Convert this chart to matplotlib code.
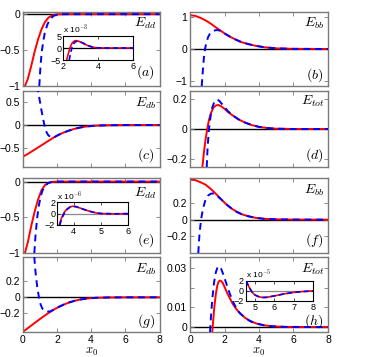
import matplotlib
matplotlib.use("Agg")
import matplotlib.pyplot as plt

plt.rcParams["font.family"] = ["Liberation Sans", "DejaVu Sans"]
plt.rcParams["mathtext.fontset"] = "cm"

# -------------------------------------------------
# DATA
# -------------------------------------------------
# (a) E_dd
a_xr = [0.13, 0.3, 0.5, 0.7, 0.9, 1.1, 1.3, 1.5, 1.7, 1.9, 2.1, 2.4, 3, 8]
a_yr = [-1, -0.9, -0.72, -0.52, -0.35, -0.21, -0.11, -0.05, -0.02, -0.006, -0.002, 0, 0, 0]
a_xb = [0.97, 1.02, 1.1, 1.2, 1.3, 1.45, 1.6, 1.8, 2.0, 2.2, 2.5, 8]
a_yb = [-1, -0.8, -0.55, -0.38, -0.25, -0.14, -0.07, -0.025, -0.008, -0.002, 0, 0]
# inset (a), y in units of 1e-3
ai_xr = [2.19, 2.3, 2.4, 2.5, 2.6, 2.7, 2.85, 3.0, 3.2, 3.4, 3.6, 3.8, 4.0, 4.5, 6]
ai_yr = [-5, -2, 0.5, 2.0, 2.8, 3.1, 2.9, 2.4, 1.7, 1.0, 0.5, 0.2, 0.05, 0, 0]
ai_xb = [2.34, 2.42, 2.5, 2.6, 2.7, 2.8, 3.0, 3.2, 3.4, 3.6, 3.8, 4.0, 4.5, 6]
ai_yb = [-5, -2, 0.3, 1.9, 2.6, 2.8, 2.5, 1.8, 1.1, 0.55, 0.22, 0.06, 0, 0]

# (b) E_bb
b_xr = [0, 0.3, 0.6, 0.9, 1.2, 1.5, 1.8, 2.1, 2.4, 2.7, 3.0, 3.4, 3.8, 4.3, 5, 6, 8]
b_yr = [1.05, 1.03, 0.97, 0.89, 0.79, 0.67, 0.56, 0.45, 0.36, 0.28, 0.21, 0.15, 0.1, 0.055, 0.02, 0.005, 0]
b_xb = [0.68, 0.74, 0.8, 0.87, 0.95, 1.05, 1.15, 1.3, 1.45, 1.6, 1.8, 2.1, 2.4, 2.7, 3.0, 3.4, 3.8, 4.3, 5, 6, 8]
b_yb = [-1.15, -0.7, -0.3, 0, 0.2, 0.37, 0.47, 0.55, 0.58, 0.59, 0.56, 0.45, 0.36, 0.28, 0.21, 0.15, 0.1, 0.055, 0.02, 0.005, 0]

# (c) E_db
c_xr = [0, 0.3, 0.6, 0.9, 1.2, 1.5, 1.8, 2.1, 2.4, 2.7, 3.0, 3.4, 3.8, 4.3, 5, 6, 8]
c_yr = [-0.68, -0.62, -0.55, -0.48, -0.41, -0.34, -0.27, -0.21, -0.16, -0.12, -0.085, -0.05, -0.028, -0.012, -0.004, 0, 0]
c_xb = [0.86, 0.92, 1.0, 1.1, 1.2, 1.3, 1.4, 1.5, 1.6, 1.7, 1.8, 2.1, 2.4, 2.7, 3.0, 3.4, 3.8, 4.3, 5, 6, 8]
c_yb = [0.85, 0.7, 0.52, 0.31, 0.12, -0.05, -0.16, -0.22, -0.25, -0.26, -0.27, -0.21, -0.16, -0.12, -0.085, -0.05, -0.028, -0.012, -0.004, 0, 0]

# (d) E_tot
d_xr = [0.72, 0.8, 0.9, 1.0, 1.1, 1.2, 1.35, 1.5, 1.65, 1.8, 2.0, 2.2, 2.5, 2.8, 3.2, 3.6, 4.0, 4.5, 5, 6, 8]
d_yr = [-0.25, -0.16, -0.07, 0.0, 0.06, 0.1, 0.14, 0.155, 0.158, 0.15, 0.133, 0.112, 0.087, 0.064, 0.042, 0.025, 0.014, 0.006, 0.002, 0, 0]
d_xb = [0.97, 1.02, 1.1, 1.2, 1.3, 1.4, 1.5, 1.6, 1.7, 1.85, 2.0, 2.2, 2.5, 2.8, 3.2, 3.6, 4.0, 4.5, 5, 6, 8]
d_yb = [-0.25, -0.12, 0.0, 0.09, 0.145, 0.175, 0.19, 0.193, 0.185, 0.165, 0.145, 0.117, 0.088, 0.064, 0.042, 0.025, 0.014, 0.006, 0.002, 0, 0]

# (e) E_dd
e_xr = [0.13, 0.3, 0.5, 0.7, 0.9, 1.1, 1.3, 1.5, 1.7, 1.9, 2.2, 8]
e_yr = [-1, -0.85, -0.62, -0.42, -0.25, -0.12, -0.05, -0.018, -0.005, -0.001, 0, 0]
e_xb = [0.68, 0.75, 0.85, 0.95, 1.05, 1.15, 1.3, 1.5, 1.7, 1.9, 2.2, 8]
e_yb = [-1, -0.75, -0.5, -0.33, -0.21, -0.13, -0.06, -0.02, -0.005, -0.001, 0, 0]
# inset (e), y in units of 1e-6
ei_xr = [3.47, 3.55, 3.65, 3.75, 3.85, 3.95, 4.05, 4.2, 4.4, 4.6, 4.8, 5.0, 5.5, 6]
ei_yr = [-2, -0.8, 0.2, 0.8, 1.15, 1.3, 1.25, 1.05, 0.7, 0.4, 0.15, 0.02, -0.03, 0]
ei_xb = [3.49, 3.57, 3.67, 3.77, 3.87, 3.97, 4.07, 4.2, 4.4, 4.6, 4.8, 5.0, 5.5, 6]
ei_yb = [-2, -0.8, 0.2, 0.8, 1.15, 1.3, 1.25, 1.05, 0.7, 0.4, 0.15, 0.02, -0.03, 0]

# (f) E_bb
f_xr = [0, 0.3, 0.6, 0.9, 1.2, 1.5, 1.8, 2.1, 2.4, 2.7, 3.0, 3.4, 3.8, 4.3, 5, 6, 8]
f_yr = [0.48, 0.475, 0.45, 0.42, 0.37, 0.31, 0.245, 0.185, 0.135, 0.095, 0.065, 0.04, 0.022, 0.01, 0.004, 0.001, 0]
f_xb = [0.48, 0.55, 0.64, 0.75, 0.9, 1.05, 1.2, 1.3, 1.4, 1.55, 1.8, 2.1, 2.4, 2.7, 3.0, 3.4, 3.8, 4.3, 5, 6, 8]
f_yb = [-0.4, -0.17, 0, 0.13, 0.24, 0.29, 0.31, 0.315, 0.31, 0.29, 0.245, 0.185, 0.135, 0.095, 0.065, 0.04, 0.022, 0.01, 0.004, 0.001, 0]

# (g) E_db
g_xr = [0, 0.5, 1.0, 1.5, 1.8, 2.1, 2.4, 2.7, 3.0, 3.4, 3.8, 4.3, 5, 6, 8]
g_yr = [-0.43, -0.35, -0.27, -0.195, -0.155, -0.12, -0.09, -0.065, -0.045, -0.026, -0.014, -0.006, -0.002, 0, 0]
g_xb = [0.68, 0.72, 0.78, 0.85, 0.95, 1.05, 1.15, 1.3, 1.45, 1.6, 1.8, 2.1, 2.4, 2.7, 3.0, 3.4, 3.8, 4.3, 5, 6, 8]
g_yb = [0.5, 0.38, 0.25, 0.13, 0.0, -0.09, -0.14, -0.17, -0.175, -0.175, -0.155, -0.12, -0.09, -0.065, -0.045, -0.026, -0.014, -0.006, -0.002, 0, 0]

# (h) E_tot
h_xr = [1.29, 1.35, 1.42, 1.5, 1.58, 1.66, 1.74, 1.8, 1.9, 2.0, 2.15, 2.3, 2.5, 2.7, 2.9, 3.2, 3.5, 3.9, 4.3, 4.8, 5.5, 8]
h_yr = [-0.0025, 0.004, 0.011, 0.017, 0.021, 0.0232, 0.0237, 0.0235, 0.0225, 0.0205, 0.0175, 0.0148, 0.0115, 0.009, 0.007, 0.0047, 0.003, 0.0017, 0.0009, 0.0004, 0.0001, 0]
h_xb = [1.16, 1.22, 1.3, 1.4, 1.5, 1.6, 1.7, 1.8, 1.9, 2.0, 2.15, 2.3, 2.5, 2.7, 2.9, 3.2, 3.5, 3.9, 4.3, 4.8, 5.5, 8]
h_yb = [-0.0025, 0.006, 0.015, 0.023, 0.028, 0.0305, 0.031, 0.0298, 0.0275, 0.025, 0.021, 0.0172, 0.0128, 0.0093, 0.007, 0.0047, 0.003, 0.0017, 0.0009, 0.0004, 0.0001, 0]
# inset (h), y in units of 1e-5
hi_x = [4.55, 4.7, 4.85, 5.0, 5.2, 5.4, 5.6, 6.0, 6.5, 7.0, 7.5, 8.0]
hi_yr = [2, 0.8, -0.2, -0.8, -1.15, -1.3, -1.28, -1.0, -0.6, -0.3, -0.12, -0.02]
hi_yb = [2, 0.8, -0.2, -0.8, -1.15, -1.3, -1.28, -1.0, -0.6, -0.3, -0.12, -0.02]

x_ticks = [0, 2, 4, 6, 8]
x_ticklabels = ["0", "2", "4", "6", "8"]

# -------------------------------------------------
# PLOT
# -------------------------------------------------
W, H = 386, 357
fig = plt.figure(figsize=(W / 100, H / 100), dpi=100)
FRAME = "#7a7a7a"
M = "\u2212"


def px_axes(left, top, right, bottom):
    return fig.add_axes([left / W, 1 - bottom / H, (right - left) / W, (bottom - top) / H])


def style(ax, fs):
    for s in ax.spines.values():
        s.set_color(FRAME)
        s.set_linewidth(1.0)
    ax.tick_params(direction="in", length=3, width=0.6, color=FRAME,
                   labelsize=fs, top=True, right=True, pad=2)


def panel(ax, xr, yr, xb, yb, ylim, yticks, ylabels, name, tag, name_y, tag_y,
          bottom=False):
    ax.axhline(0, color="black", lw=1.0, zorder=1)
    ax.plot(xr, yr, color="red", lw=1.4, zorder=2)
    ax.plot(xb, yb, color="blue", lw=1.4, ls=(0, (3.5, 2.5)), zorder=3)
    ax.set_xlim(0, 8)
    ax.set_ylim(*ylim)
    ax.set_xticks(x_ticks)
    ax.set_yticks(yticks)
    ax.set_yticklabels(ylabels)
    style(ax, 7.5)
    if bottom:
        ax.set_xticklabels(x_ticklabels)
        ax.text(0.5, -0.262, r"$x_0$", transform=ax.transAxes,
                ha="center", va="center", fontsize=9)
    else:
        ax.set_xticklabels([])
    ax.text(0.975, name_y, r"$E_{%s}$" % name, transform=ax.transAxes,
            ha="right", va="center", fontsize=10)
    ax.text(0.965, tag_y, r"$(%s)$" % tag, transform=ax.transAxes,
            ha="right", va="center", fontsize=10)


def inset(ax, xr, yr, xb, yb, xlim, ylim, xticks, yticks, ylabels, expo, zc):
    ax.axhline(0, color=zc, lw=0.9, zorder=1)
    ax.plot(xr, yr, color="red", lw=1.2, zorder=2)
    ax.plot(xb, yb, color="blue", lw=1.2, ls=(0, (3, 2)), zorder=3)
    ax.set_xlim(*xlim)
    ax.set_ylim(*ylim)
    ax.set_xticks(xticks)
    ax.set_xticklabels([str(t) for t in xticks])
    ax.set_yticks(yticks)
    ax.set_yticklabels(ylabels)
    for s in ax.spines.values():
        s.set_color("black")
        s.set_linewidth(0.8)
    ax.tick_params(direction="in", length=2, width=0.5, labelsize=6.5,
                   top=True, right=True, pad=1.5)
    ax.text(0.0, 1.03, r"x 10$^{%d}$" % expo, transform=ax.transAxes,
            ha="left", va="bottom", fontsize=6)


LX0, LX1 = 22.7, 159.5
RX0, RX1 = 190, 328
rows = [(12, 86), (91, 167), (178, 253), (257, 332)]

ax_a = px_axes(LX0, rows[0][0], LX1, rows[0][1])
panel(ax_a, a_xr, a_yr, a_xb, a_yb, (-1, 0.03), [-1, -0.5, 0], [M + "1", M + "0.5", "0"],
      "dd", "a", 0.85, 0.19)
ax_b = px_axes(RX0, rows[0][0], RX1, rows[0][1])
panel(ax_b, b_xr, b_yr, b_xb, b_yb, (-1.15, 1.15), [-1, 0, 1], [M + "1", "0", "1"],
      "bb", "b", 0.85, 0.15)
ax_c = px_axes(LX0, rows[1][0], LX1, rows[1][1])
panel(ax_c, c_xr, c_yr, c_xb, c_yb, (-0.9, 0.73), [-0.5, 0, 0.5], [M + "0.5", "0", "0.5"],
      "db", "c", 0.84, 0.15)
ax_d = px_axes(RX0, rows[1][0], RX1, rows[1][1])
panel(ax_d, d_xr, d_yr, d_xb, d_yb, (-0.25, 0.25), [-0.2, 0, 0.2], [M + "0.2", "0", "0.2"],
      "tot", "d", 0.86, 0.16)
ax_e = px_axes(LX0, rows[2][0], LX1, rows[2][1])
panel(ax_e, e_xr, e_yr, e_xb, e_yb, (-1, 0.05), [-1, -0.5, 0], [M + "1", M + "0.5", "0"],
      "dd", "e", 0.80, 0.17)
ax_f = px_axes(RX0, rows[2][0], RX1, rows[2][1])
panel(ax_f, f_xr, f_yr, f_xb, f_yb, (-0.4, 0.5), [-0.2, 0, 0.2], [M + "0.2", "0", "0.2"],
      "bb", "f", 0.84, 0.17)
ax_g = px_axes(LX0, rows[3][0], LX1, rows[3][1])
panel(ax_g, g_xr, g_yr, g_xb, g_yb, (-0.43, 0.5), [-0.2, 0, 0.2], [M + "0.2", "0", "0.2"],
      "db", "g", 0.83, 0.14, bottom=True)
ax_h = px_axes(RX0, rows[3][0], RX1, rows[3][1])
panel(ax_h, h_xr, h_yr, h_xb, h_yb, (-0.0025, 0.0357), [0, 0.01, 0.02, 0.03],
      ["0", "0.01", "", "0.03"], "tot", "h", 0.83, 0.14, bottom=True)

# insets
in_a = px_axes(63.3, 36, 133.3, 60)
inset(in_a, ai_xr, ai_yr, ai_xb, ai_yb, (2, 6), (-5, 5), [2, 4, 6], [-5, 0, 5],
      [M + "5", "0", "5"], -3, "black")
in_e = px_axes(57.3, 202.3, 128.3, 225)
inset(in_e, ei_xr, ei_yr, ei_xb, ei_yb, (3.4, 6), (-2, 2), [4, 5, 6], [-2, 0, 2],
      [M + "2", "0", "2"], -6, "#888888")
in_h = px_axes(246, 280.7, 313.3, 301)
inset(in_h, hi_x, hi_yr, hi_x, hi_yb, (4.55, 8), (-2, 2), [5, 6, 7, 8], [-2, 0, 2],
      [M + "2", "0", "2"], -5, "#888888")

fig.savefig("out.png", dpi=100)
